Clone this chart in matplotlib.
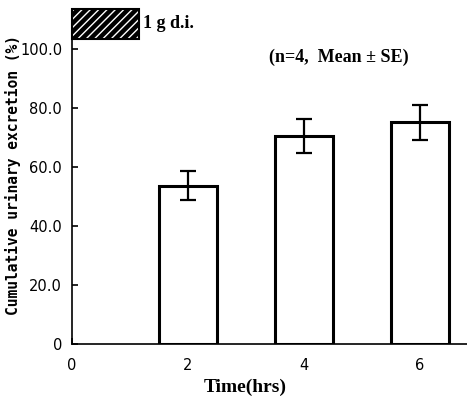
import matplotlib
matplotlib.use("Agg")
import matplotlib.pyplot as plt
from matplotlib.patches import Rectangle

times = [2, 4, 6]
means = [53.7, 70.5, 75.1]
ses = [5.0, 5.8, 6.0]
yticks = [0, 20, 40, 60, 80, 100]
ytick_labels = ["0", "20.0", "40.0", "60.0", "80.0", "100.0"]
xticks = [0, 2, 4, 6]
xtick_labels = ["0", "2", "4", "6"]

fig = plt.figure(figsize=(4.67, 4.00), dpi=100)
ax = fig.add_axes([0.154, 0.14, 0.846, 0.76])

ax.bar(times, means, width=1.0, facecolor="white", edgecolor="black", linewidth=2.2, zorder=2)
ax.errorbar(times, means, yerr=ses, fmt="none", ecolor="black", elinewidth=1.6,
            capsize=6, capthick=1.6, zorder=3)

ax.set_xlim(0, 6.81)
ax.set_ylim(0, 103)
ax.spines["top"].set_visible(False)
ax.spines["right"].set_visible(False)
ax.spines["left"].set_linewidth(1.2)
ax.spines["bottom"].set_linewidth(1.2)

ax.set_yticks(yticks)
ax.set_yticklabels(ytick_labels)
ax.set_xticks(xticks)
ax.set_xticklabels(xtick_labels)
ax.tick_params(axis="both", direction="in", length=4, width=1.2, labelsize=10.5)
ax.tick_params(axis="y", pad=7)
ax.tick_params(axis="x", pad=10)

ax.set_xlabel("Time(hrs)", fontsize=14, family="Liberation Serif", fontweight="bold")
ax.xaxis.set_label_coords(0.438, -0.115)
ax.set_ylabel("Cumulative urinary excretion (%)", fontsize=10.5, family="DejaVu Sans Mono",
              fontweight="bold")
ax.yaxis.set_label_coords(-0.128, 0.556)

# dosing bar
ax.add_patch(Rectangle((0, 103.5), 1.15, 10, facecolor="black", edgecolor="white",
                       hatch="////", linewidth=0, clip_on=False, zorder=4))
ax.add_patch(Rectangle((0, 103.5), 1.15, 10, facecolor="none", edgecolor="black",
                       linewidth=1.5, clip_on=False, zorder=5))
ax.text(1.22, 108.5, "1 g d.i.", fontsize=13, family="Liberation Serif", fontweight="bold",
        va="center", ha="left")

ax.text(3.4, 97, "(n=4,  Mean \u00b1 SE)", fontsize=13, family="Liberation Serif",
        fontweight="bold", va="center", ha="left")

fig.savefig("out.png", dpi=100)
